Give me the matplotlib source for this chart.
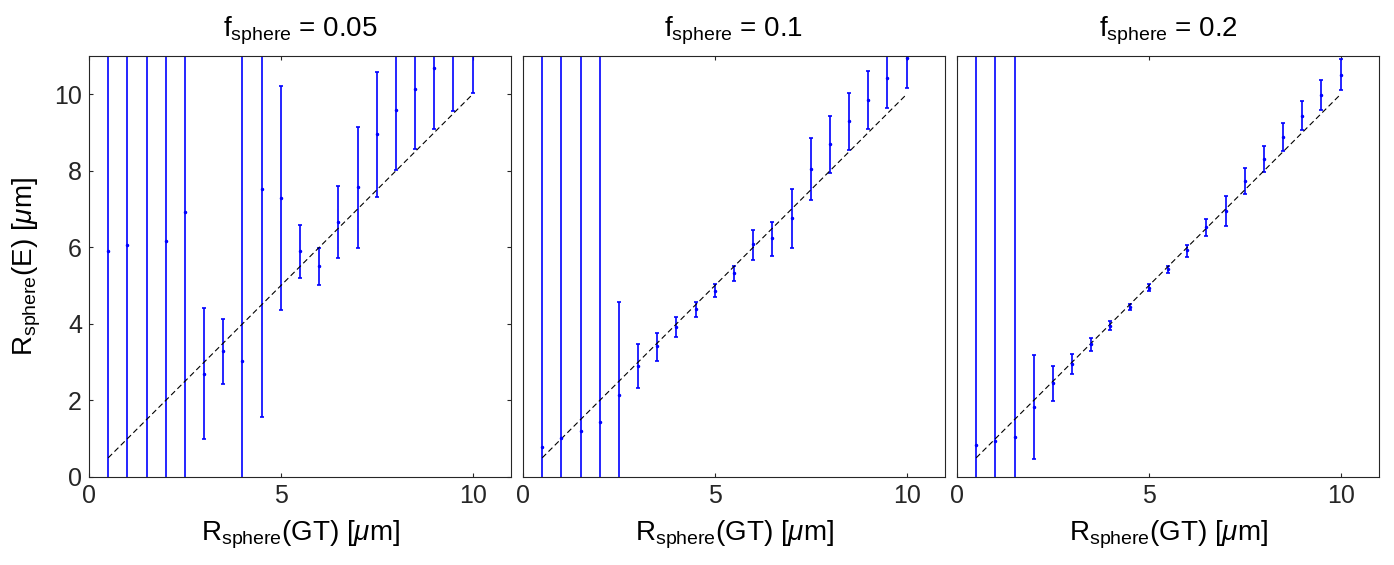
import numpy as np
import matplotlib
matplotlib.use("Agg")
import matplotlib.pyplot as plt

plt.rcParams['font.family'] = ['Liberation Sans', 'DejaVu Sans']
plt.rcParams['mathtext.fontset'] = 'custom'
plt.rcParams['mathtext.rm'] = 'Liberation Sans'
plt.rcParams['mathtext.it'] = 'Liberation Sans:italic'

# ground-truth radii (same for all panels)
r_gt = np.arange(0.5, 10.01, 0.5)

titles = ['0.05', '0.1', '0.2']

# panel 1: f_sphere = 0.05  (mean, lower end, upper end)
mean_1 = [5.91, 6.05, 12.0, 6.16, 6.92, 2.69, 3.28, 3.02, 7.53, 7.28,
          5.91, 5.51, 6.66, 7.57, 8.95, 9.59, 10.13, 10.68, 11.2, 11.5]
low_1 = [-20, -20, -20, -20, -20, 0.98, 2.42, -20, 1.58, 4.36,
         5.20, 5.01, 5.71, 5.99, 7.31, 8.01, 8.58, 9.09, 9.57, 10.03]
high_1 = [30, 30, 30, 30, 30, 4.42, 4.14, 30, 30, 10.22,
          6.59, 5.99, 7.60, 9.14, 10.59, 30, 30, 30, 30, 30]

# panel 2: f_sphere = 0.1
mean_2 = [0.78, 1.02, 1.19, 1.45, 2.15, 2.90, 3.41, 3.91, 4.39, 4.87,
          5.33, 6.08, 6.24, 6.77, 8.06, 8.70, 9.29, 9.86, 10.42, 10.95]
low_2 = [-20, -20, -20, -20, -20, 2.33, 3.04, 3.65, 4.19, 4.70,
         5.12, 5.67, 5.77, 5.99, 7.24, 7.94, 8.55, 9.10, 9.64, 10.17]
high_2 = [30, 30, 30, 30, 4.57, 3.48, 3.77, 4.17, 4.57, 5.03,
          5.52, 6.45, 6.66, 7.53, 8.87, 9.44, 10.03, 10.60, 11.2, 11.7]

# panel 3: f_sphere = 0.2
mean_3 = [0.84, 0.94, 1.05, 1.83, 2.46, 2.96, 3.48, 3.95, 4.44, 4.95,
          5.44, 5.92, 6.53, 6.95, 7.74, 8.32, 8.89, 9.43, 9.99, 10.51]
low_3 = [-20, -20, -20, 0.48, 1.99, 2.69, 3.29, 3.83, 4.36, 4.87,
         5.33, 5.75, 6.29, 6.55, 7.40, 7.97, 8.51, 9.06, 9.58, 10.10]
high_3 = [30, 30, 30, 3.18, 2.89, 3.21, 3.63, 4.07, 4.53, 5.03,
          5.52, 6.05, 6.73, 7.33, 8.07, 8.66, 9.26, 9.82, 10.37, 10.91]

panels = [(mean_1, low_1, high_1), (mean_2, low_2, high_2), (mean_3, low_3, high_3)]

fig = plt.figure(figsize=(13.94, 5.65), dpi=100)
lefts = [89, 523, 957]
axcol = '#262626'

for i, (m, lo, hi) in enumerate(panels):
    m = np.array(m)
    lo = np.array(lo)
    hi = np.array(hi)
    ax = fig.add_axes([lefts[i] / 1394, 88 / 565, 422 / 1394, 421 / 565])
    ax.errorbar(r_gt, m, yerr=[m - lo, hi - m], fmt='.', color='blue',
                markersize=3, elinewidth=1.2, capsize=1.4, capthick=1.2)
    ax.plot([r_gt[0], r_gt[-1]], [r_gt[0], r_gt[-1]], 'k--',
            linewidth=0.8, dashes=(5, 3))
    ax.set_xlim(0, 11)
    ax.set_ylim(0, 11)
    ax.set_xticks([0, 5, 10])
    if i == 0:
        ax.set_yticks([0, 2, 4, 6, 8, 10])
        ax.set_ylabel(r'R$_{\rm sphere}$(E) [$\mu$m]', fontsize=20, labelpad=8)
    else:
        ax.set_yticks([])
    ax.tick_params(direction='in', length=3, width=0.8, colors=axcol,
                   labelcolor='#262626', labelsize=18, top=True, right=True, pad=5)
    for s in ax.spines.values():
        s.set_color(axcol)
        s.set_linewidth(0.8)
    ax.set_xlabel(r'R$_{\rm sphere}$(GT) [$\mu$m]', fontsize=20, labelpad=8)
    ax.set_title(r'f$_{\rm sphere}$ = ' + titles[i], fontsize=20, pad=14)

fig.savefig('out.png', dpi=100)
